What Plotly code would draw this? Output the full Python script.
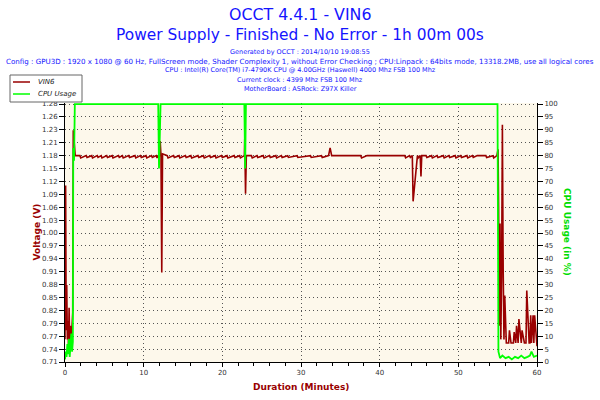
import plotly.graph_objects as go

# ---- data ----
# VIN6 voltage (time in minutes, value in V)
vin_t = [0.0, 0.08, 0.15, 0.22, 0.3, 0.38, 0.45, 0.52, 0.6, 0.68,
         0.75, 0.82, 0.9, 0.98, 1.05, 1.12, 1.2, 1.3, 1.9, 2.0,
         2.7, 2.8, 3.4, 3.5, 4.1, 4.2, 4.6, 4.7, 5.3, 5.4,
         6.0, 6.1, 6.8, 6.9, 7.3, 7.4, 8.1, 8.2, 8.9, 9.0,
         9.6, 9.7, 10.3, 10.4, 11.0, 11.1, 11.6, 11.7, 11.9, 12.0,
         12.1, 12.2, 12.3, 12.4, 13.0, 13.1, 13.8, 13.9, 14.5, 14.6,
         15.3, 15.4, 16.0, 16.1, 16.9, 17.0, 17.6, 17.7, 18.4, 18.5,
         19.1, 19.2, 19.9, 20.0, 20.6, 20.7, 21.5, 21.6, 22.2, 22.3,
         22.8, 22.85, 22.95, 23.05, 23.7, 23.8, 24.4, 24.5, 25.2, 25.3,
         26.0, 26.1, 26.8, 26.9, 27.5, 27.6, 28.3, 28.4, 29.5, 29.6,
         31.2, 31.3, 32.6, 32.7, 33.5, 33.7, 33.9, 37.6, 37.7, 38.3,
         38.4, 43.2, 43.3, 43.8, 43.9, 44.15, 44.25, 44.8, 44.9, 45.15,
         45.25, 45.35, 45.9, 46.0, 46.6, 46.7, 47.3, 47.4, 48.1, 48.2,
         48.8, 48.9, 49.6, 49.7, 50.3, 50.4, 51.1, 51.2, 51.8, 51.9,
         52.3, 52.4, 53.5, 53.6, 54.4, 54.5, 54.9, 55.05, 55.12, 55.2,
         55.3, 55.4, 55.5, 55.6, 55.7, 55.8, 55.9, 56.0, 56.1, 56.4,
         56.5, 56.7, 57.0, 57.1, 57.3, 57.4, 57.6, 57.7, 58.0, 58.1,
         58.4, 58.6, 58.7, 59.0, 59.1, 59.2, 59.3, 59.5, 59.6, 59.7,
         59.8, 60.0]
vin_v = [0.76, 1.1, 0.78, 0.88, 0.76, 0.8, 0.74, 0.83, 0.75, 0.79,
         0.74, 0.76, 0.8, 0.82, 1.222, 1.2, 1.17, 1.166, 1.166, 1.161,
         1.166, 1.162, 1.166, 1.161, 1.166, 1.162, 1.166, 1.161, 1.166, 1.162,
         1.166, 1.161, 1.166, 1.162, 1.166, 1.161, 1.166, 1.162, 1.166, 1.161,
         1.166, 1.162, 1.166, 1.161, 1.166, 1.162, 1.166, 1.161, 1.166, 1.166,
         1.198, 1.166, 0.908, 1.17, 1.166, 1.161, 1.166, 1.162, 1.166, 1.161,
         1.166, 1.162, 1.166, 1.161, 1.166, 1.162, 1.166, 1.161, 1.166, 1.162,
         1.166, 1.161, 1.166, 1.162, 1.166, 1.161, 1.166, 1.162, 1.166, 1.161,
         1.166, 1.203, 1.082, 1.166, 1.166, 1.161, 1.166, 1.162, 1.166, 1.161,
         1.166, 1.162, 1.166, 1.161, 1.166, 1.162, 1.166, 1.162, 1.166, 1.162,
         1.166, 1.162, 1.166, 1.162, 1.166, 1.183, 1.166, 1.166, 1.161, 1.166,
         1.166, 1.166, 1.161, 1.166, 1.162, 1.166, 1.065, 1.166, 1.161, 1.166,
         1.12, 1.166, 1.166, 1.162, 1.166, 1.161, 1.166, 1.162, 1.166, 1.161,
         1.166, 1.162, 1.166, 1.161, 1.166, 1.162, 1.166, 1.161, 1.166, 1.162,
         1.166, 1.166, 1.166, 1.162, 1.166, 1.161, 1.166, 1.18, 1.05, 0.79,
         1.016, 0.76, 0.9, 1.234, 0.917, 0.76, 0.857, 0.8, 0.752, 0.752,
         0.78, 0.752, 0.752, 0.776, 0.752, 0.79, 0.752, 0.805, 0.752, 0.78,
         0.752, 0.752, 0.868, 0.752, 0.752, 0.813, 0.752, 0.813, 0.752, 0.813,
         0.79, 0.745]

# CPU usage (time in minutes, value in %)
cpu_t = [0.0, 0.1, 0.2, 0.3, 0.4, 0.5, 0.6, 0.7, 0.8, 0.9,
         1.0, 1.05, 1.15, 1.25, 11.85, 11.95, 12.05, 12.15, 22.8, 22.9,
         23.0, 54.98, 55.1, 55.3, 55.6, 56.0, 56.4, 56.8, 57.2, 57.6,
         58.0, 58.4, 58.8, 59.1, 59.3, 59.6, 60.0]
cpu_v = [1, 4, 2, 7, 3, 9, 2, 6, 11, 4,
         8, 83, 78, 100, 100, 75, 92, 100, 100, 75,
         100, 100, 4, 1.5, 2.5, 1.5, 2, 1, 2, 1.5,
         2.5, 1.5, 2, 2.5, 4, 2, 2.5]

volt_ticktext = ["0.71", "0.74", "0.77", "0.79", "0.82", "0.85", "0.88", "0.91", "0.94", "0.97", "1.00",
                 "1.03", "1.06", "1.09", "1.12", "1.15", "1.18", "1.21", "1.23", "1.26", "1.28"]
volt_min, volt_max = 0.71, 1.28

series_names = ["VIN6", "CPU Usage"]

header_lines = [
    "Generated by OCCT : 2014/10/10 19:08:55",
    "Config : GPU3D : 1920 x 1080 @ 60 Hz, FullScreen mode, Shader Complexity 1, without Error Checking ; "
    "CPU:Linpack : 64bits mode, 13318.2MB, use all logical cores",
    "CPU : Intel(R) Core(TM) i7-4790K CPU @ 4.00GHz (Haswell) 4000 Mhz FSB 100 Mhz",
    "Current clock : 4399 Mhz FSB 100 Mhz",
    "MotherBoard : ASRock: Z97X Killer",
]
header_sizes = [6.5, 7.1, 6.5, 6.5, 6.5]

# plot area in pixels
L, R, T, B = 65, 537, 103, 362
def py(ypix):
    return (B - ypix) / (B - T)
def px(xpix):
    return (xpix - L) / (R - L)

RED = "#990000"
GREEN = "#00FF00"
BLUE = "#1414FF"
FONT = "DejaVu Sans"

step = (volt_max - volt_min) / 20
volt_tickvals = [volt_min + i * step for i in range(21)]
pad = 0.004  # tiny headroom so the 100 % line is not clipped by the plot edge

fig = go.Figure()
fig.add_trace(go.Scatter(x=cpu_t, y=cpu_v, name=series_names[1], mode="lines", yaxis="y2",
                         line=dict(color=GREEN, width=1.8), showlegend=False))
fig.add_trace(go.Scatter(x=vin_t, y=vin_v, name=series_names[0], mode="lines",
                         line=dict(color=RED, width=1.6), showlegend=False))

ann = [
    dict(text="OCCT 4.4.1 - VIN6", y=14.5, size=15.8),
    dict(text="Power Supply - Finished - No Error - 1h 00m 00s", y=34.5, size=15.4),
]
for i, line in enumerate(header_lines):
    ann.append(dict(text=line, y=52 + i * 9.2, size=header_sizes[i]))

annotations = []
for a in ann:
    annotations.append(dict(text=a["text"], xref="paper", yref="paper", x=px(300), y=py(a["y"]),
                            xanchor="center", yanchor="middle", showarrow=False,
                            font=dict(family=FONT, size=a["size"], color=BLUE)))
annotations += [
    dict(text="<b>Voltage (V)</b>", xref="paper", yref="paper", x=px(36), y=0.5, textangle=-90,
         showarrow=False, xanchor="center", yanchor="middle", font=dict(family=FONT, size=9, color=RED)),
    dict(text="<b>CPU Usage (in %)</b>", xref="paper", yref="paper", x=px(567), y=py(232), textangle=90,
         showarrow=False, xanchor="center", yanchor="middle", font=dict(family=FONT, size=9, color="#00DD00")),
    dict(text="<b>Duration (Minutes)</b>", xref="paper", yref="paper", x=px(301), y=py(387),
         showarrow=False, xanchor="center", yanchor="middle", font=dict(family=FONT, size=9, color=RED)),
]

# hand-drawn legend box (top-left, outside the plot)
shapes = [
    dict(type="rect", xref="paper", yref="paper", x0=px(10), x1=px(82), y0=py(102), y1=py(75),
         fillcolor="white", line=dict(color="#666666", width=1), layer="above"),
    dict(type="line", xref="paper", yref="paper", x0=px(13), x1=px(30), y0=py(82), y1=py(82),
         line=dict(color=RED, width=1.5), layer="above"),
    dict(type="line", xref="paper", yref="paper", x0=px(13), x1=px(30), y0=py(94), y1=py(94),
         line=dict(color=GREEN, width=1.5), layer="above"),
]
for name, ypix in zip(series_names, [82, 94]):
    annotations.append(dict(text="<i>" + name + "</i>", xref="paper", yref="paper", x=px(36), y=py(ypix),
                            xanchor="left", yanchor="middle", showarrow=False,
                            font=dict(family=FONT, size=7, color="#222222")))

fig.update_layout(
    width=600, height=400,
    margin=dict(l=L, r=600 - R, t=T, b=400 - B, autoexpand=False),
    paper_bgcolor="white", plot_bgcolor="#FDF8EB",
    showlegend=False,
    annotations=annotations,
    shapes=shapes,
    xaxis=dict(range=[0, 60], dtick=10, tick0=0, showline=True, linecolor="black", linewidth=1,
               ticks="outside", ticklen=4, tickcolor="black",
               minor=dict(dtick=2, ticks="outside", ticklen=3, tickcolor="black"),
               showgrid=True, gridcolor="#555555", griddash="1px,3px", gridwidth=1, zeroline=False,
               tickfont=dict(family=FONT, size=7, color="#333333")),
    yaxis=dict(range=[volt_min, volt_max + pad * (volt_max - volt_min)], tickmode="array",
               tickvals=volt_tickvals, ticktext=volt_ticktext,
               showline=True, linecolor="black", linewidth=1, ticks="outside", ticklen=5, tickcolor="black",
               showgrid=True, gridcolor="#555555", griddash="1px,3px", gridwidth=1, zeroline=False,
               tickfont=dict(family=FONT, size=7, color="#333333")),
    yaxis2=dict(range=[0, 100 * (1 + pad)], dtick=5, overlaying="y", side="right", showline=True,
                linecolor="black", linewidth=1, ticks="outside", ticklen=5, tickcolor="black",
                showgrid=False, zeroline=False,
                tickfont=dict(family=FONT, size=7, color="#333333")),
)

fig.write_html("out.html", config={"displayModeBar": False},
               post_script="document.body.style.margin='0';")
